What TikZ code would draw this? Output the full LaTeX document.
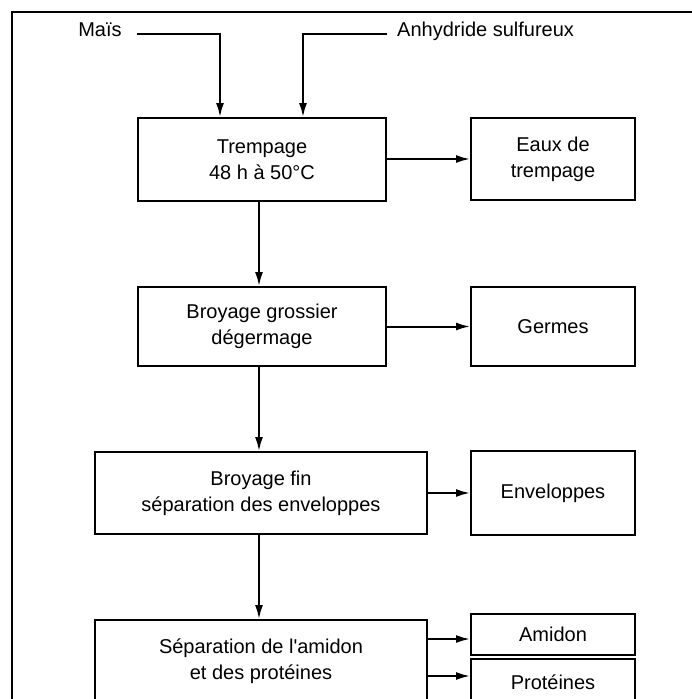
\documentclass[tikz,border=0pt]{standalone}
\usepackage{fontspec}
\newfontfamily\lib{Liberation Sans}
\usetikzlibrary{arrows.meta}
\begin{document}
\begin{tikzpicture}[x=1pt,y=-1pt,
  every node/.style={font=\lib\fontsize{20}{26}\selectfont},
  box/.style={draw, line width=2pt, align=center, inner sep=0pt, minimum width=#1},
  box/.default=164pt,
  arr/.style={line width=2pt, -{Latex[length=14pt,width=8pt]}},
  ln/.style={line width=2pt}]
\useasboundingbox (0,0) rectangle (692,699);
\clip (0,0) rectangle (692,699);
\draw[ln] (12,712) -- (12,12) -- (710,12);
% main boxes
\node[box=248pt, minimum height=83pt] (trem) at (262,159.5) {Trempage\\48 h à 50°C};
\node[box=248pt, minimum height=79pt] (broy1) at (262,326.5) {Broyage grossier\\dégermage};
\node[box=332pt, minimum height=82pt] (broy2) at (261,493) {Broyage fin\\séparation des enveloppes};
\node[box=332pt, minimum height=82pt] (sep) at (261,661) {Séparation de l'amidon\\et des protéines};
% side boxes
\node[box, minimum height=82pt] (eaux) at (553,159) {Eaux de\\trempage};
\node[box, minimum height=79pt] (germ) at (553,326.5) {Germes};
\node[box, minimum height=84pt] (env) at (553,493) {Enveloppes};
\node[box, minimum height=41pt] (amid) at (553,634.5) {Amidon};
\node[box, minimum height=46pt] (prot) at (553,682) {Protéines};
% inputs
\node[anchor=base, inner sep=0pt] (mais) at (100,36) {Maïs};
\node[anchor=base west, inner sep=0pt] (anhy) at (397,36) {Anhydride sulfureux};
\coordinate (m1) at (137,34);
\coordinate (a1) at (387,34);
\draw[arr] (m1) -| ([xshift=-42pt]trem.north);
\draw[arr] (a1) -| ([xshift=41pt]trem.north);
% main flow
\draw[arr] ([xshift=-3pt]trem.south) -- ([xshift=-3pt]broy1.north);
\draw[arr] ([xshift=-3pt]broy1.south) -- ([xshift=-2pt]broy2.north);
\draw[arr] ([xshift=-2pt]broy2.south) -- ([xshift=-2pt]sep.north);
% side flows
\draw[arr] (trem.east |- eaux.west) -- (eaux.west);
\draw[arr] (broy1.east |- germ.west) -- (germ.west);
\draw[arr] (broy2.east |- env.west) -- (env.west);
\coordinate (s1) at (427,639);
\coordinate (s2) at (427,676);
\draw[arr] (s1) -- (s1 -| amid.west);
\draw[arr] (s2) -- (s2 -| prot.west);
\end{tikzpicture}
\end{document}
